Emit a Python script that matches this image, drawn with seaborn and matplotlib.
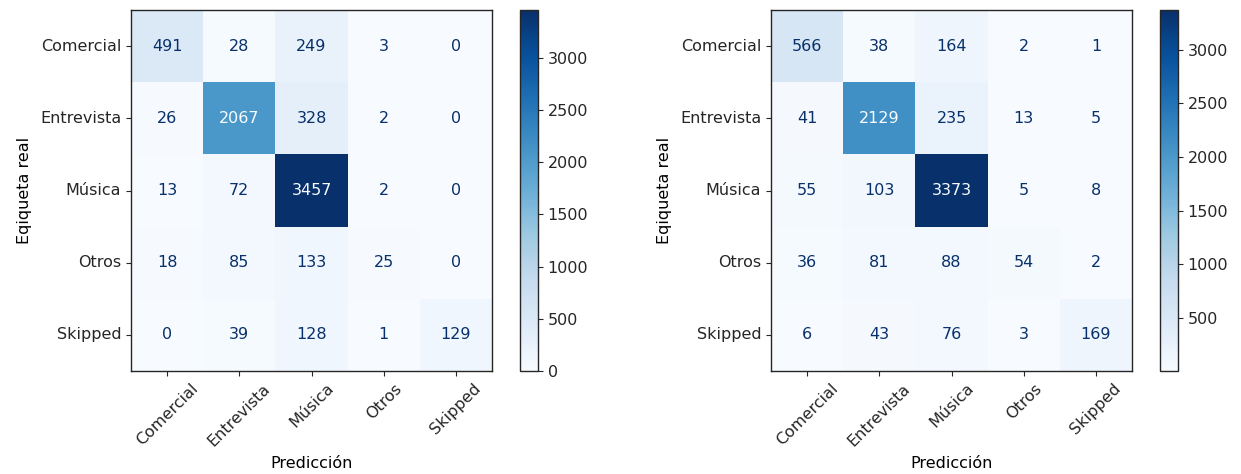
import numpy as np
import pandas as pd
import matplotlib
matplotlib.use("Agg")
import matplotlib.pyplot as plt
import seaborn as sns

labels = ["Comercial", "Entrevista", "Música", "Otros", "Skipped"]

cm_left = [
    [491, 28, 249, 3, 0],
    [26, 2067, 328, 2, 0],
    [13, 72, 3457, 2, 0],
    [18, 85, 133, 25, 0],
    [0, 39, 128, 1, 129],
]
cm_right = [
    [566, 38, 164, 2, 1],
    [41, 2129, 235, 13, 5],
    [55, 103, 3373, 5, 8],
    [36, 81, 88, 54, 2],
    [6, 43, 76, 3, 169],
]

plt.rcParams["font.family"] = ["DejaVu Sans"]
plt.rcParams["font.size"] = 11.5
plt.rcParams["text.color"] = "#262626"
plt.rcParams["xtick.color"] = "#262626"
plt.rcParams["ytick.color"] = "#262626"

W, H = 1241, 474
fig = plt.figure(figsize=(W / 100, H / 100), dpi=100)


def px_rect(x0, x1, y0, y1):
    return [x0 / W, 1 - y1 / H, (x1 - x0) / W, (y1 - y0) / H]


cmap = plt.get_cmap("Blues")
FS = 11.5


def draw(matrix, ax_rect, cb_rect):
    ax = fig.add_axes(ax_rect)
    cax = fig.add_axes(cb_rect)
    df = pd.DataFrame(matrix, index=labels, columns=labels)
    vals = df.values
    vmin, vmax = vals.min(), vals.max()
    sns.heatmap(df, ax=ax, cbar_ax=cax, cmap="Blues", vmin=vmin, vmax=vmax,
                annot=True, fmt="d", annot_kws={"fontsize": FS}, square=False)
    thresh = (vmax + vmin) / 2.0
    for t, v in zip(ax.texts, vals.flatten()):
        t.set_color(cmap(0.0) if v >= thresh else cmap(1.0))
    for s in ax.spines.values():
        s.set_visible(True)
        s.set_linewidth(1.0)
        s.set_color("#262626")
    ax.tick_params(axis="both", length=3.5, width=0.8, labelsize=FS)
    ax.set_xticklabels(labels, rotation=45, ha="center", rotation_mode="default")
    ax.set_yticklabels(labels, rotation=0)
    ax.set_xlabel("Predicción", fontsize=FS, labelpad=5)
    ax.set_ylabel("Eqiqueta real", fontsize=FS, labelpad=6)
    cb = ax.collections[0].colorbar
    cb.outline.set_visible(True)
    cb.outline.set_linewidth(1.0)
    cb.outline.set_edgecolor("#262626")
    cb.set_ticks([t for t in range(0, 3001, 500) if vmin <= t <= vmax])
    cax.tick_params(labelsize=FS, length=3.5, width=0.8)
    return ax


draw(cm_left, px_rect(131, 492, 10, 371), px_rect(520, 538, 10, 371))
draw(cm_right, px_rect(771, 1132, 10, 371), px_rect(1160, 1178, 10, 371))

fig.savefig("out.png", dpi=100)
